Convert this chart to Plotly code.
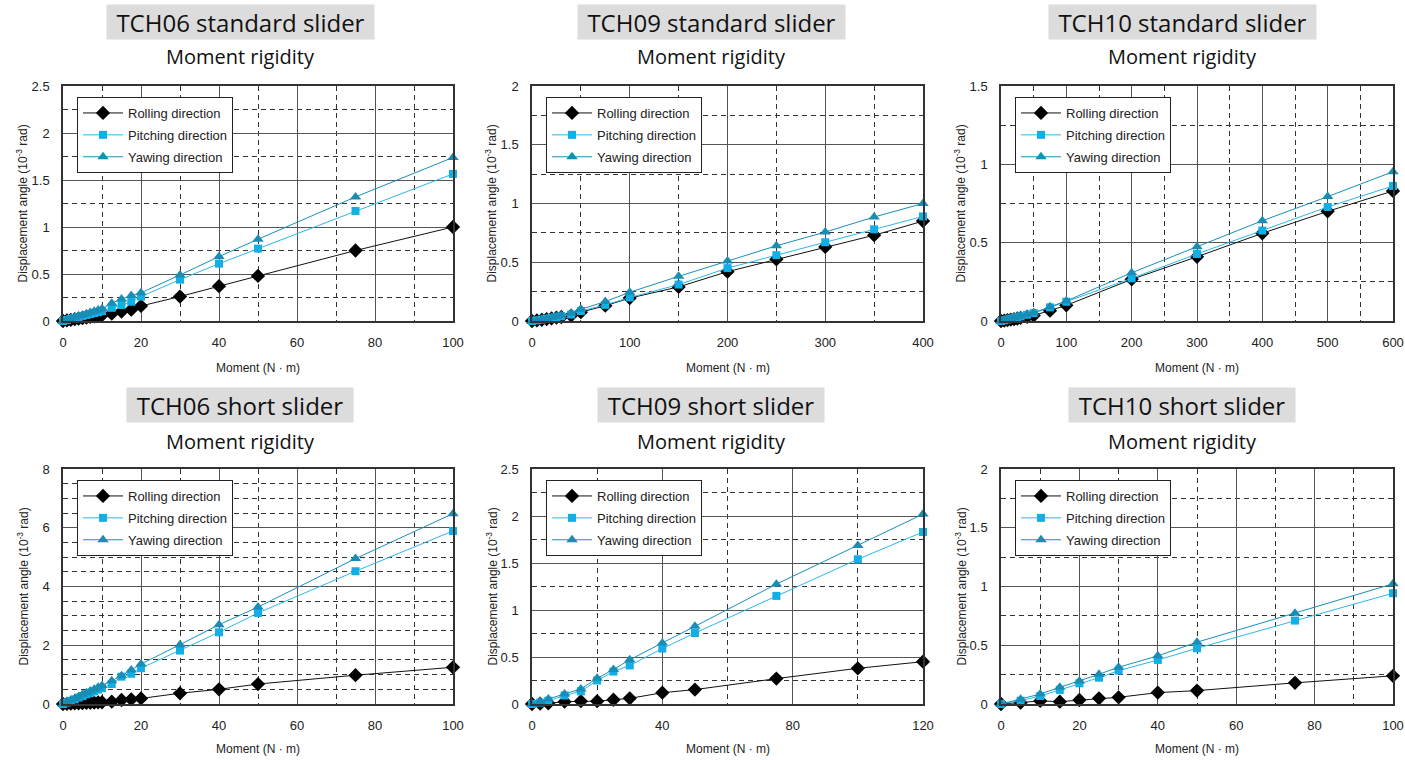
import plotly.graph_objects as go

# ---------------- data ----------------
panel_titles = ["TCH06 standard slider", "TCH09 standard slider", "TCH10 standard slider",
                "TCH06 short slider", "TCH09 short slider", "TCH10 short slider"]
series_names = ["Rolling direction", "Pitching direction", "Yawing direction"]

x_06std = [0, 1, 2, 3, 4, 5, 6, 7, 8, 9, 10, 12.5, 15, 17.5, 20, 30, 40, 50, 75, 100]
roll_06std = [0, 0.006, 0.012, 0.019, 0.025, 0.031, 0.037, 0.043, 0.049, 0.055, 0.062, 0.078, 0.10, 0.12, 0.16, 0.26, 0.37, 0.48, 0.75, 1.0]
pitch_06std = [0, 0.011, 0.022, 0.033, 0.043, 0.054, 0.064, 0.074, 0.084, 0.094, 0.105, 0.14, 0.17, 0.205, 0.26, 0.44, 0.61, 0.77, 1.17, 1.565]
yaw_06std = [0, 0.013, 0.026, 0.039, 0.052, 0.065, 0.078, 0.091, 0.104, 0.117, 0.13, 0.19, 0.235, 0.27, 0.30, 0.49, 0.685, 0.87, 1.32, 1.74]

x_09std = [0, 5, 10, 15, 20, 25, 30, 40, 50, 75, 100, 150, 200, 250, 300, 350, 400]
roll_09std = [0, 0.005, 0.01, 0.016, 0.022, 0.028, 0.034, 0.046, 0.075, 0.13, 0.195, 0.29, 0.42, 0.525, 0.63, 0.73, 0.85]
pitch_09std = [0, 0.006, 0.012, 0.019, 0.026, 0.033, 0.04, 0.055, 0.085, 0.137, 0.2, 0.31, 0.45, 0.56, 0.67, 0.78, 0.89]
yaw_09std = [0, 0.007, 0.014, 0.022, 0.03, 0.038, 0.046, 0.065, 0.1, 0.165, 0.245, 0.38, 0.51, 0.64, 0.757, 0.885, 1.0]

x_10std = [0, 5, 10, 15, 20, 25, 30, 40, 50, 75, 100, 200, 300, 400, 500, 600]
roll_10std = [0, 0.003, 0.006, 0.009, 0.012, 0.016, 0.02, 0.027, 0.035, 0.066, 0.10, 0.266, 0.41, 0.56, 0.70, 0.83]
pitch_10std = [0, 0.005, 0.01, 0.015, 0.02, 0.025, 0.03, 0.04, 0.05, 0.087, 0.123, 0.272, 0.428, 0.577, 0.728, 0.862]
yaw_10std = [0, 0.005, 0.011, 0.016, 0.021, 0.027, 0.032, 0.042, 0.053, 0.091, 0.128, 0.308, 0.474, 0.64, 0.794, 0.953]

x_06sht = [0, 1, 2, 3, 4, 5, 6, 7, 8, 9, 10, 12.5, 15, 17.5, 20, 30, 40, 50, 75, 100]
roll_06sht = [0, 0.006, 0.012, 0.018, 0.024, 0.03, 0.036, 0.042, 0.048, 0.054, 0.06, 0.08, 0.137, 0.16, 0.19, 0.365, 0.50, 0.68, 0.98, 1.25]
pitch_06sht = [0, 0.05, 0.11, 0.16, 0.22, 0.27, 0.33, 0.38, 0.43, 0.49, 0.54, 0.68, 0.93, 1.03, 1.22, 1.82, 2.44, 3.10, 4.52, 5.89]
yaw_06sht = [0, 0.06, 0.13, 0.19, 0.25, 0.32, 0.38, 0.44, 0.50, 0.57, 0.63, 0.79, 0.96, 1.16, 1.36, 2.02, 2.70, 3.30, 4.95, 6.48]

x_09sht = [0, 2.5, 5, 10, 15, 20, 25, 30, 40, 50, 75, 100, 120]
roll_09sht = [0, 0.003, 0.007, 0.025, 0.03, 0.03, 0.045, 0.06, 0.12, 0.153, 0.27, 0.38, 0.45]
pitch_09sht = [0, 0.015, 0.035, 0.09, 0.135, 0.25, 0.345, 0.41, 0.59, 0.755, 1.15, 1.54, 1.83]
yaw_09sht = [0, 0.025, 0.053, 0.107, 0.16, 0.274, 0.367, 0.47, 0.65, 0.826, 1.275, 1.685, 2.02]

x_10sht = [0, 5, 10, 15, 20, 25, 30, 40, 50, 75, 100]
roll_10sht = [0, 0.011, 0.026, 0.02, 0.034, 0.048, 0.057, 0.097, 0.114, 0.18, 0.24]
pitch_10sht = [0, 0.028, 0.068, 0.12, 0.176, 0.224, 0.284, 0.375, 0.474, 0.71, 0.943]
yaw_10sht = [0, 0.04, 0.085, 0.142, 0.196, 0.253, 0.313, 0.41, 0.526, 0.773, 1.023]

x_ranges = [[0, 100], [0, 400], [0, 600], [0, 100], [0, 120], [0, 100]]
x_major = [20, 100, 100, 20, 40, 20]
x_minor = [10, 50, 50, 10, 20, 10]
y_ranges = [[0, 2.5], [0, 2], [0, 1.5], [0, 8], [0, 2.5], [0, 2]]
y_major = [0.5, 0.5, 0.5, 2, 0.5, 0.5]
y_minor = [0.25, 0.25, 0.25, 0.5, 0.25, 0.25]

panels = [
    (x_06std, roll_06std, pitch_06std, yaw_06std),
    (x_09std, roll_09std, pitch_09std, yaw_09std),
    (x_10std, roll_10std, pitch_10std, yaw_10std),
    (x_06sht, roll_06sht, pitch_06sht, yaw_06sht),
    (x_09sht, roll_09sht, pitch_09sht, yaw_09sht),
    (x_10sht, roll_10sht, pitch_10sht, yaw_10sht),
]

# ---------------- styling / layout ----------------
W, H = 1405, 760
col_px = [(63, 453), (532, 923), (1001, 1393)]
row_px = [(86, 321), (469, 704)]
title_cx = [240, 711, 1182]
title_cy = [22, 405]
title_box_w = [267, 226]
sub_cy = [57, 441]
xtitle_cy = [368, 749]

styles = [
    dict(line=dict(color="#111111", width=1), marker=dict(symbol="diamond", size=11, color="#000000")),
    dict(line=dict(color="#2bb8ec", width=1), marker=dict(symbol="square", size=8, color="#12aee6")),
    dict(line=dict(color="#1b8fb8", width=1), marker=dict(symbol="triangle-up", size=10, color="#1a8db5")),
]

FONT = "Liberation Sans, Arial, sans-serif"
TFONT = "Open Sans, Liberation Sans, sans-serif"

def px2x(p):
    return p / W

def px2y(p):
    return 1 - p / H

fig = go.Figure()
layout = dict(width=W, height=H, margin=dict(l=0, r=0, t=0, b=0, autoexpand=False),
              paper_bgcolor="white", plot_bgcolor="white", showlegend=True,
              font=dict(family=FONT, color="#222", size=12))
annotations = []

for i, (xs, r, p, yv) in enumerate(panels):
    row, col = divmod(i, 3)
    n = i + 1
    xa = "x" if n == 1 else f"x{n}"
    ya = "y" if n == 1 else f"y{n}"
    lg = "legend" if n == 1 else f"legend{n}"
    for k, vals in enumerate([r, p, yv]):
        fig.add_trace(go.Scatter(x=xs, y=vals, name=series_names[k], mode="lines+markers",
                                 xaxis=xa, yaxis=ya, legend=lg, cliponaxis=False,
                                 legendgroup=f"{n}_{k}", **styles[k]))
    x0, x1 = col_px[col]
    y0, y1 = row_px[row]
    axcommon = dict(showline=True, mirror=True, linecolor="#333", linewidth=1.5,
                    showgrid=True, gridcolor="#555", gridwidth=1, zeroline=False,
                    ticks="", ticklabelstandoff=9, automargin=False,
                    ticklabeloverflow="allow",
                    tickfont=dict(family=FONT, size=13, color="#222"))
    layout["xaxis" if n == 1 else f"xaxis{n}"] = dict(
        domain=[px2x(x0), px2x(x1)], anchor=ya, range=x_ranges[i],
        tick0=0, dtick=x_major[i],
        minor=dict(dtick=x_minor[i], tick0=0, showgrid=True, gridcolor="#333",
                   griddash="5px,4px", gridwidth=1, ticks=""),
        **axcommon)
    layout["yaxis" if n == 1 else f"yaxis{n}"] = dict(
        domain=[px2y(y1), px2y(y0)], anchor=xa, range=y_ranges[i],
        tick0=0, dtick=y_major[i],
        minor=dict(dtick=y_minor[i], tick0=0, showgrid=True, gridcolor="#333",
                   griddash="5px,4px", gridwidth=1, ticks=""),
        **axcommon)
    layout[lg] = dict(x=px2x(x0 + 14), y=px2y(y0 + 11), xanchor="left", yanchor="top",
                      bgcolor="white", bordercolor="#222", borderwidth=1,
                      font=dict(family=FONT, size=13, color="#222"),
                      traceorder="grouped", tracegroupgap=2, itemwidth=40)
    # panel title with grey box
    annotations.append(dict(text=panel_titles[i], x=px2x(title_cx[col]), y=px2y(title_cy[row]),
                            xref="paper", yref="paper", showarrow=False, xanchor="center", yanchor="middle",
                            font=dict(family=TFONT, size=24, color="#111"), bgcolor="#dcdcdc",
                            width=title_box_w[row], height=34, align="center", borderpad=0))
    annotations.append(dict(text="Moment rigidity", x=px2x(title_cx[col]), y=px2y(sub_cy[row]),
                            xref="paper", yref="paper", showarrow=False, xanchor="center", yanchor="middle",
                            font=dict(family=TFONT, size=20, color="#111")))
    annotations.append(dict(text="Moment (N · m)", x=px2x((x0 + x1) / 2), y=px2y(xtitle_cy[row]),
                            xref="paper", yref="paper", showarrow=False, xanchor="center", yanchor="middle",
                            font=dict(family=FONT, size=12, color="#222")))
    annotations.append(dict(text="Displacement angle (10<sup>-3</sup> rad)", x=px2x(x0 - 41),
                            y=px2y((y0 + y1) / 2), xref="paper", yref="paper", showarrow=False,
                            textangle=-90, xanchor="center", yanchor="middle",
                            font=dict(family=FONT, size=12, color="#222")))

layout["annotations"] = annotations
fig.update_layout(**layout)
# place the figure flush with the window's top-left corner (remove the default page margin)
fig.write_html("out.html",
               config={"displayModeBar": False},
               post_script="document.body.style.margin='0px';document.body.style.overflow='hidden';")
